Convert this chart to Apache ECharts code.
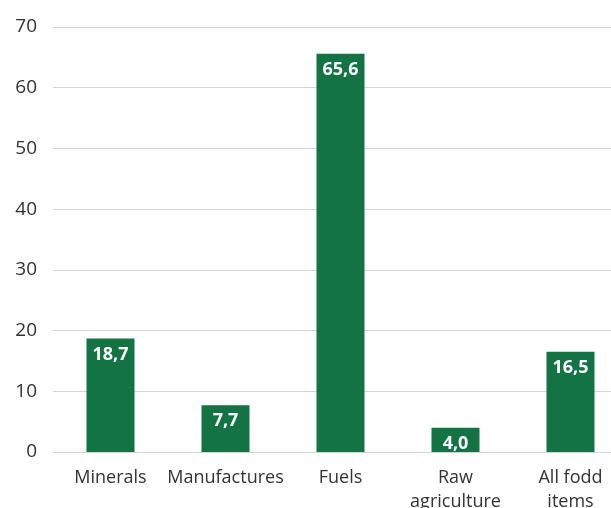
<!DOCTYPE html>
<html>
<head>
<meta charset="utf-8">
<script src="https://cdn.jsdelivr.net/npm/echarts@6/dist/echarts.min.js"></script>
<style>
  html, body { margin: 0; padding: 0; background: #ffffff; }
  #chart { width: 611px; height: 508px; }
</style>
</head>
<body>
<div id="chart"></div>
<script>
// Share of export categories
const categories = ['Minerals', 'Manufactures', 'Fuels', 'Raw\nagriculture', 'All fodd\nitems'];
const values = [18.7, 7.7, 65.6, 4.0, 16.5];
const yTicks = { min: 0, max: 70, interval: 10 };

const chart = echarts.init(document.getElementById('chart'));
chart.setOption({
  animation: false,
  grid: {
    left: 53, top: 27, bottom: 56, width: 575,
    containLabel: false,
    outerBoundsMode: 'none'
  },
  xAxis: {
    type: 'category',
    data: categories,
    axisLine: { show: false },
    axisTick: { show: false },
    axisLabel: {
      color: '#333333',
      fontFamily: 'Open Sans',
      fontSize: 18,
      lineHeight: 24,
      margin: 14,
      interval: 0,
      hideOverlap: false
    }
  },
  yAxis: {
    type: 'value',
    min: yTicks.min,
    max: yTicks.max,
    interval: yTicks.interval,
    axisLine: { show: false },
    axisTick: { show: false },
    axisLabel: {
      color: '#333333',
      fontFamily: 'Open Sans',
      fontSize: 19,
      margin: 16
    },
    splitLine: { lineStyle: { color: '#d4d4d4', width: 1 } }
  },
  series: [{
    type: 'bar',
    data: values,
    barWidth: 48,
    itemStyle: { color: '#137345' },
    label: {
      show: true,
      position: 'insideTop',
      distance: 7,
      color: '#ffffff',
      fontFamily: 'Open Sans',
      fontWeight: 'bold',
      fontSize: 18,
      formatter: p => p.value.toFixed(1).replace('.', ',')
    }
  }]
});
</script>
</body>
</html>
